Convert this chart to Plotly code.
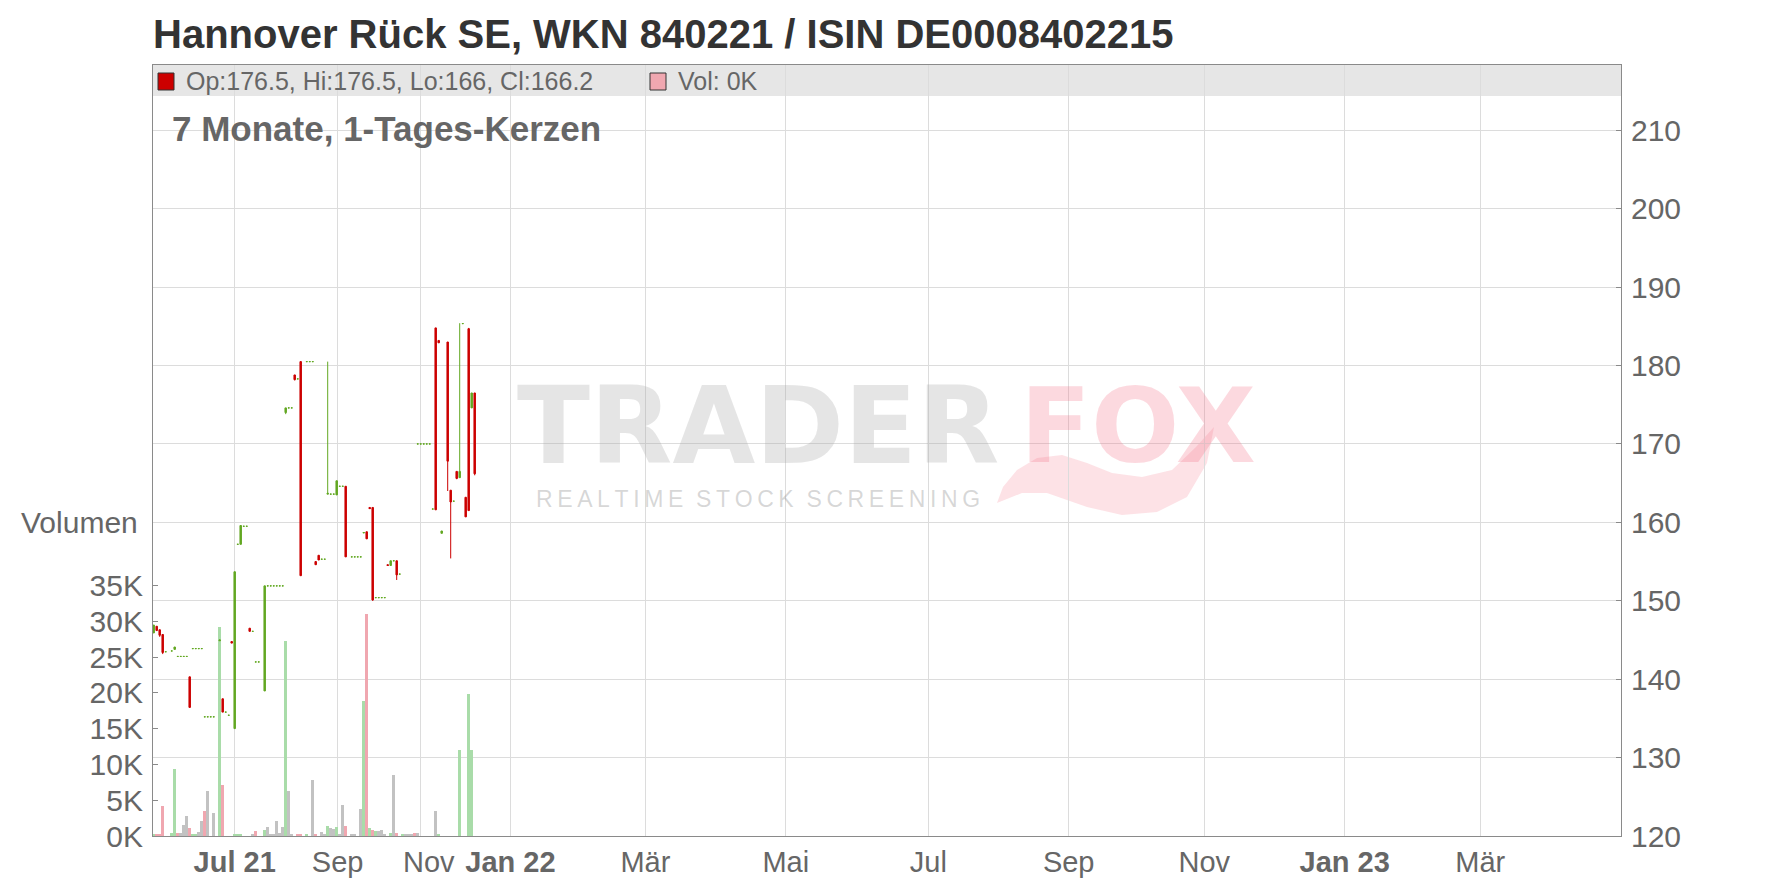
import plotly.graph_objects as go

# ---------------- data (ordinal trading-day slots, OHLC, volume) ----------------
day = [0, 1, 2, 3, 4, 6, 7, 8, 9, 10, 11, 12, 13, 14, 15, 16, 17, 18, 19, 20,
       22, 23, 24, 25, 26, 27, 28, 29, 30, 31, 32, 33, 34, 35, 37, 38, 39, 40, 41, 42,
       43, 44, 45, 46, 47, 48, 49, 51, 52, 53, 54, 55, 56, 57, 58, 59, 60, 61, 62, 63,
       64, 66, 67, 68, 69, 70, 71, 72, 73, 74, 75, 76, 77, 78, 79, 80, 81, 82, 83, 84,
       85, 86, 87, 88, 89, 90, 91, 92, 93, 94, 95, 96, 98, 99, 100, 101, 102, 103, 104, 105,
       106, 107]
open_ = [145.9, 146.75, 146.3, 145.7, 143.5, 143.6, 143.8, 142.9, 142.9, 142.9, 142.9, 140.3, 143.9, 143.9, 143.9, 143.9, 135.2, 135.2, 135.2, 135.2,
         144.9, 137.5, 135.8, 135.4, 144.8, 133.7, 157.2, 157.2, 159.5, 159.5, 146.5, 146.1, 142.2, 142.2, 138.5, 151.9, 151.9, 151.9, 151.9, 151.9,
         151.9, 174.0, 174.6, 174.6, 178.8, 178.3, 180.5, 180.5, 180.5, 180.5, 155.0, 155.8, 155.3, 155.3, 163.6, 163.6, 163.6, 163.5, 164.6, 164.6,
         164.6, 155.6, 155.6, 155.6, 155.6, 158.65, 158.8, 161.9, 161.9, 150.4, 150.4, 150.4, 150.4, 154.6, 154.5, 155.1, 155.1, 153.4, None, None,
         None, None, None, 170.0, 170.0, 170.0, 170.0, 170.0, 161.7, 184.8, 183.2, 158.6, 183.0, 164.1, 162.7, 166.5, 165.7, 185.35, 163.2, 184.7,
         174.6, 176.5]
high = [146.9, 146.75, 146.3, 145.7, 143.5, 143.6, 144.1, 142.9, 142.9, 142.9, 142.9, 140.3, 143.9, 143.9, 143.9, 143.9, 135.2, 135.2, 135.2, 135.2,
        145.0, 137.5, 135.8, 135.4, 144.8, 153.7, 157.2, 159.6, 159.5, 159.5, 146.5, 146.1, 142.2, 142.2, 151.9, 151.9, 151.9, 151.9, 151.9, 151.9,
        151.9, 174.6, 174.6, 174.6, 178.8, 178.3, 180.5, 180.5, 180.5, 180.5, 155.0, 155.8, 155.3, 155.3, 180.5, 163.6, 163.6, 165.3, 164.6, 164.6,
        164.6, 155.6, 155.6, 155.6, 155.6, 158.7, 158.8, 161.9, 161.9, 150.4, 150.4, 150.4, 150.4, 154.6, 155.1, 155.1, 155.1, 153.4, None, None,
        None, None, None, 170.0, 170.0, 170.0, 170.0, 170.0, 161.7, 184.8, 183.2, 158.9, 183.0, 164.1, 162.7, 166.5, 185.4, 185.35, 163.2, 184.8,
        176.5, 176.5]
low = [145.9, 146.2, 145.4, 143.2, 143.5, 143.6, 143.8, 142.9, 142.9, 142.9, 142.9, 136.4, 143.9, 143.9, 143.9, 143.9, 135.2, 135.2, 135.2, 135.2,
       144.9, 135.8, 135.8, 135.4, 144.6, 133.7, 157.2, 157.2, 159.5, 159.5, 146.1, 146.1, 142.2, 142.2, 138.5, 151.9, 151.9, 151.9, 151.9, 151.9,
       151.9, 173.8, 174.6, 174.6, 178.1, 178.3, 153.2, 180.5, 180.5, 180.5, 154.6, 155.2, 155.3, 155.3, 163.6, 163.6, 163.6, 163.5, 164.6, 164.6,
       155.6, 155.6, 155.6, 155.6, 155.6, 158.65, 157.9, 161.75, 150.0, 150.4, 150.4, 150.4, 150.4, 154.5, 154.5, 155.1, 152.65, 153.4, None, None,
       None, None, None, 170.0, 170.0, 170.0, 170.0, 170.0, 161.7, 161.6, 182.9, 158.6, 164.0, 155.4, 162.7, 165.5, 165.7, 185.35, 160.7, 161.5,
       174.6, 166.0]
close = [146.9, 146.2, 145.6, 143.4, 143.5, 143.6, 144.1, 142.9, 142.9, 142.9, 142.9, 136.4, 143.9, 143.9, 143.9, 143.9, 135.2, 135.2, 135.2, 135.2,
         145.0, 135.8, 135.8, 135.4, 144.6, 153.7, 157.2, 159.6, 159.5, 159.5, 146.1, 146.1, 142.2, 142.2, 151.9, 151.9, 151.9, 151.9, 151.9, 151.9,
         151.9, 174.6, 174.6, 174.6, 178.2, 178.3, 153.2, 180.5, 180.5, 180.5, 154.6, 155.2, 155.3, 155.3, 163.7, 163.6, 163.6, 165.3, 164.6, 164.6,
         155.6, 155.6, 155.6, 155.6, 155.6, 158.7, 157.9, 161.75, 150.1, 150.4, 150.4, 150.4, 150.4, 154.5, 155.1, 155.1, 153.3, 153.4, None, None,
         None, None, None, 170.0, 170.0, 170.0, 170.0, 170.0, 161.7, 161.6, 182.9, 158.9, 167.8, 162.6, 162.7, 165.6, 166.5, 185.35, 160.7, 161.5,
         176.5, 166.2]
volume = [300, 200, 200, 4200, 0, 400, 9300, 400, 400, 1600, 2800, 1100, 300, 300, 600, 2100, 3500, 6300, 0, 3200,
          29200, 7100, 0, 0, 0, 200, 200, 300, 0, 0, 0, 200, 700, 0, 800, 1300, 200, 300, 2100, 400,
          1300, 27200, 6300, 200, 0, 200, 300, 300, 0, 7800, 200, 0, 600, 300, 1400, 1100, 1000, 1300, 200, 4400,
          1400, 200, 200, 0, 3800, 18900, 31000, 1100, 900, 700, 700, 900, 300, 0, 400, 8500, 400, 0, 300, 300,
          200, 300, 400, 400, 0, 0, 0, 0, 0, 3500, 200, 0, 0, 0, 0, 0, 12000, 0, 0, 19900,
          12000, 0]
vol_dir = ["u", "d", "d", "d", "n", "u", "u", "d", "n", "n", "n", "d", "u", "u", "n", "n", "d", "n", "n", "n",
           "u", "d", "n", "n", "n", "u", "u", "u", "n", "n", "n", "n", "d", "n", "u", "n", "n", "n", "n", "n",
           "n", "u", "n", "n", "n", "d", "d", "u", "n", "n", "d", "n", "n", "n", "u", "n", "n", "u", "n", "n",
           "d", "n", "n", "n", "n", "u", "d", "u", "d", "u", "n", "n", "n", "n", "u", "n", "d", "n", "u", "n",
           "n", "n", "d", "n", "n", "n", "n", "n", "n", "n", "u", "n", "n", "n", "n", "n", "u", "n", "n", "u",
           "u", "n"]

tick_labels = ["<b>Jul 21</b>", "Sep", "\u00a0\u00a0Nov", "<b>Jan 22</b>", "Mär", "Mai", "Jul", "Sep", "Nov", "<b>Jan 23</b>", "Mär"]
price_ticks = list(range(120, 211, 10))
vol_ticks = list(range(0, 35001, 5000))

# ---------------- layout geometry ----------------
W, H = 1776, 888
ML, MR, MT, MB = 153, 155, 65, 52
PW, PH = W - ML - MR, H - MT - MB
SLOT_PX = 3.0
X0 = -0.233
X1 = X0 + PW / SLOT_PX
tick_slots = [27.0, 61.3, 89.0, 118.9, 163.9, 210.7, 258.2, 305.0, 350.2, 397.0, 442.2]
PRICE_MIN = 120
PRICE_MAX = PRICE_MIN + PH / 7.841
VOL_MAX = PH / 7.155 * 1000


def fx(px):
    return (px - ML) / PW


def fy(py):
    return (H - MB - py) / PH


GREEN = "#63a823"
RED = "#cc0000"
VCOL = {"u": "#a9dca9", "d": "#f0a7b0", "n": "#c2c2c2"}
FONT = "Liberation Sans, Arial, sans-serif"

body_i = [i for i in range(len(day)) if open_[i] is not None and open_[i] != close[i]]
flat_i = [i for i in range(len(day)) if open_[i] is not None and open_[i] == close[i]]


def pick(arr, idx):
    return [arr[i] for i in idx]


fig = go.Figure()

fig.add_trace(go.Bar(
    x=day, y=volume, width=0.65,
    marker=dict(color=[VCOL[d] for d in vol_dir], line=dict(width=0)),
    yaxis="y", hoverinfo="skip", showlegend=False,
))

fig.add_trace(go.Candlestick(
    x=pick(day, body_i), open=pick(open_, body_i), high=pick(high, body_i),
    low=pick(low, body_i), close=pick(close, body_i),
    increasing=dict(line=dict(color=GREEN, width=1), fillcolor=GREEN),
    decreasing=dict(line=dict(color=RED, width=1), fillcolor=RED),
    yaxis="y2", hoverinfo="skip", showlegend=False,
))

fig.add_trace(go.Candlestick(
    x=pick(day, flat_i), open=pick(open_, flat_i), high=pick(high, flat_i),
    low=pick(low, flat_i), close=pick(close, flat_i),
    increasing=dict(line=dict(color=GREEN, width=1), fillcolor=GREEN),
    decreasing=dict(line=dict(color=GREEN, width=1), fillcolor=GREEN),
    yaxis="y2", hoverinfo="skip", showlegend=False,
))

AX_LINE = "#8a8a8a"
GRID = "#dcdcdc"

last = len(day) - 1
legend_txt = "Op:%g, Hi:%g, Lo:%g, Cl:%g" % (open_[last], high[last], low[last], close[last])
vol_txt = "Vol: %gK" % (volume[last] / 1000)

annotations = [
    dict(text="<b>7 Monate, 1-Tages-Kerzen</b>", x=fx(170), y=fy(128), xref="paper", yref="paper",
         xanchor="left", yanchor="middle", showarrow=False, font=dict(size=35, color="#666666", family=FONT)),
    dict(text="Volumen", x=fx(140), y=fy(522), xref="paper", yref="paper",
         xanchor="right", yanchor="middle", showarrow=False, font=dict(size=30, color="#666666", family=FONT)),
    dict(text=legend_txt, x=fx(184), y=fy(81), xref="paper", yref="paper",
         xanchor="left", yanchor="middle", showarrow=False, font=dict(size=25, color="#666666", family=FONT)),
    dict(text=vol_txt, x=fx(676), y=fy(81), xref="paper", yref="paper",
         xanchor="left", yanchor="middle", showarrow=False, font=dict(size=25, color="#666666", family=FONT)),
    # watermark
    dict(text="<b>TRADER</b>", x=fx(758), y=fy(426), xref="paper", yref="paper",
         xanchor="center", yanchor="middle", showarrow=False,
         font=dict(size=107, color="rgba(170,170,170,0.30)", family="DejaVu Sans")),
    dict(text="<b>FOX</b>", x=fx(1138), y=fy(426), xref="paper", yref="paper",
         xanchor="center", yanchor="middle", showarrow=False,
         font=dict(size=104, color="rgba(245,110,130,0.26)", family="DejaVu Sans")),
    dict(text="\u2009".join("REALTIME") + "  " + "\u2009".join("STOCK") + "  " + "\u2009".join("SCREENING"),
         x=fx(758), y=fy(499), xref="paper", yref="paper",
         xanchor="center", yanchor="middle", showarrow=False,
         font=dict(size=23, color="rgba(150,150,150,0.38)", family=FONT)),
]


def ppath(points):
    parts = []
    for k, (px, py) in enumerate(points):
        parts.append(("M" if k == 0 else "L") + " %.5f %.5f" % (fx(px), fy(py)))
    return " ".join(parts) + " Z"


tail_outline = [(997, 503), (1003, 487), (1017, 470), (1037, 458), (1062, 455), (1087, 463),
                (1112, 473), (1142, 477), (1172, 470), (1196, 447), (1214, 427), (1207, 463),
                (1187, 497), (1157, 512), (1122, 515), (1087, 507), (1047, 493), (1022, 493)]

shapes = [
    dict(type="rect", xref="paper", yref="paper", x0=0, x1=1, y0=fy(96), y1=1,
         fillcolor="#e6e6e6", line=dict(width=0), layer="below"),
    dict(type="path", xref="paper", yref="paper", path=ppath(tail_outline),
         fillcolor="rgba(245,110,130,0.20)", line=dict(width=0), layer="below"),
    dict(type="rect", xref="paper", yref="paper", x0=fx(158), x1=fx(174), y0=fy(90), y1=fy(73),
         fillcolor=RED, line=dict(color="#333333", width=1)),
    dict(type="rect", xref="paper", yref="paper", x0=fx(650), x1=fx(666), y0=fy(90), y1=fy(73),
         fillcolor="#f0a7b0", line=dict(color="#333333", width=1)),
]

fig.update_layout(
    width=W, height=H,
    margin=dict(l=ML, r=MR, t=MT, b=MB, pad=0, autoexpand=False),
    paper_bgcolor="white", plot_bgcolor="white",
    font=dict(family=FONT, color="#666666"),
    title=dict(text="<b>Hannover Rück SE, WKN 840221 / ISIN DE0008402215</b>",
               x=ML / W, xanchor="left", xref="container",
               y=1 - 34 / H, yanchor="middle", yref="container",
               font=dict(size=40, color="#333333", family=FONT)),
    showlegend=False,
    boxmode="overlay", boxgap=0.3, boxgroupgap=0.3,
    bargap=0,
    xaxis=dict(range=[X0, X1], type="linear", tickmode="array", tickvals=tick_slots, ticktext=tick_labels,
               showgrid=True, gridcolor=GRID, gridwidth=1, zeroline=False,
               showline=True, linecolor=AX_LINE, linewidth=1, mirror=True,
               ticks="", tickfont=dict(size=29, color="#666666", family=FONT),
               ticklabelstandoff=0, automargin=False,
               rangeslider=dict(visible=False), fixedrange=True),
    yaxis=dict(range=[0, VOL_MAX], tickmode="array", tickvals=vol_ticks,
               ticktext=["%dK" % (v // 1000) for v in vol_ticks],
               side="left", showgrid=False, zeroline=False,
               showline=True, linecolor=AX_LINE, linewidth=1,
               ticks="inside", ticklen=5, tickcolor=AX_LINE,
               tickfont=dict(size=30, color="#666666", family=FONT), ticklabelstandoff=3,
               automargin=False, fixedrange=True),
    yaxis2=dict(range=[PRICE_MIN, PRICE_MAX], overlaying="y", side="right",
                tickmode="array", tickvals=price_ticks,
                showgrid=True, gridcolor=GRID, gridwidth=1, zeroline=False,
                showline=True, linecolor=AX_LINE, linewidth=1,
                ticks="inside", ticklen=5, tickcolor=AX_LINE,
                tickfont=dict(size=30, color="#666666", family=FONT), ticklabelstandoff=3,
                automargin=False, fixedrange=True),
    annotations=annotations,
    shapes=shapes,
)

fig.write_html("out.html", config={"displayModeBar": False},
               post_script="document.body.style.margin='0';document.body.style.overflow='hidden';")
